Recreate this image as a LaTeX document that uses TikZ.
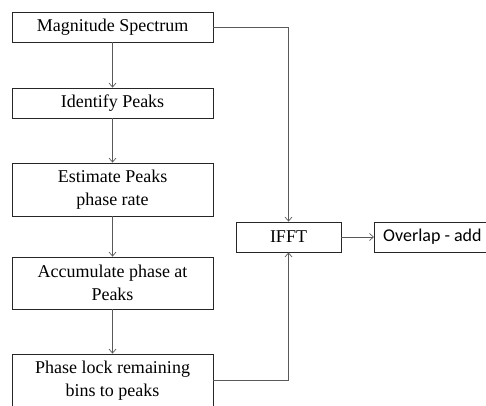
\documentclass[tikz,border=0pt]{standalone}
\usepackage{fontspec}
\setmainfont{Liberation Serif}
\newfontfamily\timeslike{Liberation Serif}
\newfontfamily\calibrilike{Carlito}
\usetikzlibrary{arrows.meta}
\begin{document}
\begin{tikzpicture}[x=1pt,y=-1pt,
  box/.style={draw=black!85, line width=0.8pt, rectangle, inner sep=0pt,
    minimum width=201pt, align=center, font=\timeslike\fontsize{18}{22.5}\selectfont},
  flow/.style={draw=black!65, line width=0.8pt,
    -{Straight Barb[length=4pt,width=7pt,line width=0.7pt]}}]
  \clip (0,0) rectangle (486,405);
  \useasboundingbox (0,0) rectangle (486,405);
  % processing chain on the left
  \node[box, minimum height=30pt] (mag) at (112.5,27) {Magnitude Spectrum};
  \node[box, minimum height=30pt] (ident) at (112.5,103) {Identify Peaks};
  \node[box, minimum height=53pt] (est) at (112.5,189.5) {Estimate Peaks\\phase rate};
  \node[box, minimum height=52pt] (acc) at (112.5,283) {Accumulate phase at\\Peaks};
  \node[box, minimum height=53pt] (lock) at (112.5,380.5) {Phase lock remaining\\bins to peaks};
  % synthesis on the right
  \node[box, minimum width=105pt, minimum height=30pt] (ifft) at (288.5,237) {IFFT};
  \node[box, minimum width=116pt, minimum height=30pt, anchor=west,
        font=\calibrilike\fontsize{18}{22}\selectfont] (ovl) at (374,237) {Overlap - add};
  \draw[flow] (mag) -- (ident);
  \draw[flow] (ident) -- (est);
  \draw[flow] (est) -- (acc);
  \draw[flow] (acc) -- (lock);
  \draw[flow] (mag.east) -| (ifft.north);
  \draw[flow] (lock.east) -| (ifft.south);
  \draw[flow] (ifft) -- (ovl);
\end{tikzpicture}
\end{document}
